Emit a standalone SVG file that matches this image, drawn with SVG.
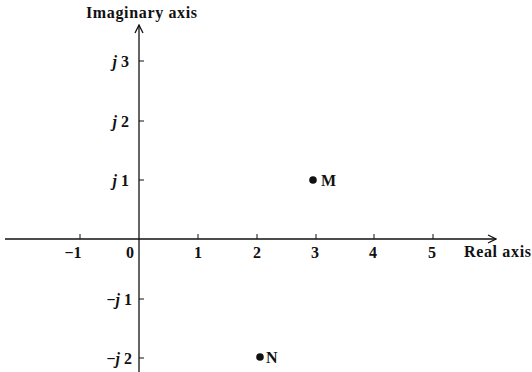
<svg xmlns="http://www.w3.org/2000/svg" width="532" height="372" viewBox="0 0 532 372">
<style>
text{font-family:"Liberation Serif","Times New Roman",serif;font-weight:bold;font-size:16px;fill:#111}
.ax{stroke:#111;stroke-width:1.3;fill:none}
.tk{stroke:#111;stroke-width:1}
.c{text-anchor:middle}
.r{text-anchor:end}
</style>
<defs>
<marker id="ah" viewBox="0 0 10 10" refX="9" refY="5" markerWidth="10" markerHeight="10" markerUnits="userSpaceOnUse" orient="auto">
<path d="M1,1 L9,5 L1,9" fill="none" stroke="#111" stroke-width="1.3"/>
</marker>
</defs>
<rect width="532" height="372" fill="#fff"/>
<g id="connectors">
<line class="ax" x1="5" y1="239" x2="496" y2="239" marker-end="url(#ah)"/>
<line class="ax" x1="139" y1="372" x2="139" y2="25" marker-end="url(#ah)"/>
<g class="tk">
<line x1="80" y1="239" x2="80" y2="234"/>
<line x1="198" y1="239" x2="198" y2="234"/>
<line x1="257" y1="239" x2="257" y2="234"/>
<line x1="316" y1="239" x2="316" y2="234"/>
<line x1="374" y1="239" x2="374" y2="234"/>
<line x1="433" y1="239" x2="433" y2="234"/>
<line x1="139" y1="61" x2="144" y2="61"/>
<line x1="139" y1="121" x2="144" y2="121"/>
<line x1="139" y1="180" x2="144" y2="180"/>
<line x1="139" y1="299" x2="144" y2="299"/>
<line x1="139" y1="358" x2="144" y2="358"/>
</g>
</g>
<g id="axis-labels">
<text x="86" y="18" textLength="111" lengthAdjust="spacing">Imaginary axis</text>
<text x="464" y="257" textLength="67" lengthAdjust="spacing">Real axis</text>
</g>
<g id="x-ticks">
<text x="73" y="258" class="c">−1</text>
<text x="130" y="258" class="c">0</text>
<text x="198" y="258" class="c">1</text>
<text x="257" y="258" class="c">2</text>
<text x="315" y="258" class="c">3</text>
<text x="373" y="258" class="c">4</text>
<text x="432" y="258" class="c">5</text>
</g>
<g id="y-ticks">
<text x="129" y="67" class="r"><tspan font-style="italic">j</tspan> 3</text>
<text x="129" y="127" class="r"><tspan font-style="italic">j</tspan> 2</text>
<text x="129" y="186" class="r"><tspan font-style="italic">j</tspan> 1</text>
<text x="132" y="305" class="r">−<tspan font-style="italic">j</tspan> 1</text>
<text x="132" y="364" class="r">−<tspan font-style="italic">j</tspan> 2</text>
</g>
<g id="point-M">
<circle cx="313" cy="180" r="3.8" fill="#111"/>
<text x="321" y="186">M</text>
</g>
<g id="point-N">
<circle cx="260" cy="357" r="3.8" fill="#111"/>
<text x="266" y="363">N</text>
</g>
</svg>
